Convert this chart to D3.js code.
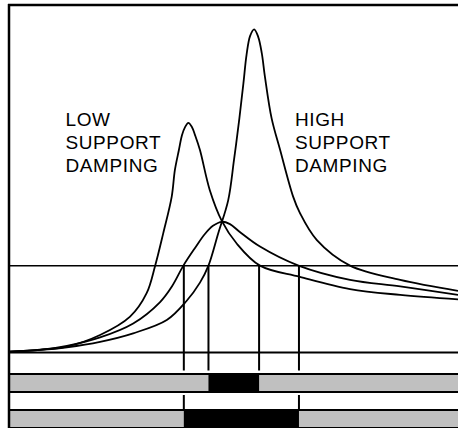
<!DOCTYPE html>
<html>
<head>
<meta charset="utf-8">
<script src="https://cdn.jsdelivr.net/npm/d3@7"></script>
<style>
  html, body { margin: 0; padding: 0; background: #fff; }
  svg { display: block; }
</style>
</head>
<body>
<div id="chart"></div>
<script>
// Response amplitude vs. speed for three support conditions.
// Frequency axis runs 0..100, amplitude axis 0..100 (arbitrary units).

const lowFreq = [0, 6.7, 12.7, 20.1, 26.8, 30.5, 32.4, 34.2, 36.1, 36.8, 37.7, 38.4, 39.1, 39.8, 40.6, 41.3, 42.4, 44.6, 47.3, 50.6, 55.8, 64.7, 75.9, 87.1, 100];
const lowAmp  = [0.1, 0.7, 1.6, 5.0, 10.4, 17.3, 25.4, 34.9, 45.7, 53.5, 59.4, 63.8, 66.2, 67.4, 66.2, 63.8, 59.4, 47.6, 38.5, 31.9, 25.4, 22.1, 18.5, 16.8, 15.5];

const highFreq = [0, 6.7, 12.7, 20.1, 27.5, 35.0, 39.4, 42.4, 44.3, 46.5, 48.7, 50.0, 51.2, 52.1, 52.8, 53.6, 54.5, 55.4, 56.2, 56.9, 58.4, 60.3, 63.2, 64.7, 68.5, 75.9, 87.1, 100];
const highAmp  = [0.1, 0.6, 1.4, 3.0, 5.5, 9.4, 15.0, 20.4, 25.4, 35.0, 44.6, 56.5, 68.7, 79.0, 87.4, 93.0, 94.9, 92.7, 87.9, 81.0, 68.7, 59.4, 45.7, 40.9, 32.9, 25.4, 21.2, 18.0];

const broadFreq = [0, 6.7, 12.7, 20.1, 27.5, 33.5, 36.2, 38.7, 41.3, 43.5, 45.3, 47.3, 49.1, 51.3, 55.8, 64.4, 75.9, 87.1, 100];
const broadAmp  = [0.1, 0.6, 1.8, 4.3, 8.4, 14.7, 19.4, 25.4, 30.6, 34.7, 37.1, 38.3, 37.6, 35.3, 31.0, 25.4, 21.2, 19.3, 16.8];

// Allowable amplitude level
const limitAmp = 25.4;

// Speed ranges where the limit is exceeded
const lowBand = [44.3, 55.6];   // upper bar
const highBand = [38.8, 64.5];  // lower bar

const labelLeft = ["LOW", "SUPPORT", "DAMPING"];
const labelRight = ["HIGH", "SUPPORT", "DAMPING"];

const W = 458, H = 428;
const svg = d3.select("#chart").append("svg")
  .attr("width", W).attr("height", H);

svg.append("rect").attr("width", W).attr("height", H).attr("fill", "#fff");

const x = d3.scaleLinear().domain([0, 100]).range([10, 458]);
const y = d3.scaleLinear().domain([0, 100]).range([352, 12]);

const line = d3.line()
  .x(d => x(d[0]))
  .y(d => y(d[1]))
  .curve(d3.curveCatmullRom.alpha(0.5));

// Bars below the plot
const rows = [
  { top: 374, bottom: 392, band: lowBand },
  { top: 410, bottom: 428, band: highBand }
];
rows.forEach(r => {
  svg.append("rect")
    .attr("x", x(0)).attr("y", r.top)
    .attr("width", x(100) - x(0)).attr("height", r.bottom - r.top)
    .attr("fill", "#c0c0c0");
  svg.append("rect")
    .attr("x", x(r.band[0])).attr("y", r.top)
    .attr("width", x(r.band[1]) - x(r.band[0])).attr("height", r.bottom - r.top)
    .attr("fill", "#000");
  [r.top, r.bottom].forEach(yy => {
    svg.append("line")
      .attr("x1", x(0)).attr("x2", W)
      .attr("y1", yy).attr("y2", yy)
      .attr("stroke", "#000").attr("stroke-width", 2);
  });
});

// Baseline and limit line
svg.append("line")
  .attr("x1", x(0)).attr("x2", W)
  .attr("y1", y(0) + 0.5).attr("y2", y(0) + 0.5)
  .attr("stroke", "#000").attr("stroke-width", 2.2);
svg.append("line")
  .attr("x1", x(0)).attr("x2", W)
  .attr("y1", y(limitAmp)).attr("y2", y(limitAmp))
  .attr("stroke", "#000").attr("stroke-width", 1.5);

// Drop lines from the limit crossings
const drops = [lowBand[0], lowBand[1], highBand[0], highBand[1]];
drops.forEach(f => {
  svg.append("line")
    .attr("x1", x(f)).attr("x2", x(f))
    .attr("y1", y(limitAmp)).attr("y2", 370.5)
    .attr("stroke", "#000").attr("stroke-width", 2);
});
highBand.forEach(f => {
  svg.append("line")
    .attr("x1", x(f)).attr("x2", x(f))
    .attr("y1", 395).attr("y2", 410)
    .attr("stroke", "#000").attr("stroke-width", 2);
});

// Response curves
[[lowFreq, lowAmp], [highFreq, highAmp], [broadFreq, broadAmp]].forEach(([fs, as]) => {
  svg.append("path")
    .datum(fs.map((f, i) => [f, as[i]]))
    .attr("d", line)
    .attr("fill", "none")
    .attr("stroke", "#000")
    .attr("stroke-width", 1.8)
    .attr("stroke-linejoin", "round");
});

// Labels
function label(lines, xPos) {
  const t = svg.append("text")
    .attr("font-family", "'Liberation Sans', Arial, sans-serif")
    .attr("font-size", 19)
    .attr("letter-spacing", 0.6)
    .attr("fill", "#000");
  lines.forEach((s, i) => {
    t.append("tspan").attr("x", xPos).attr("y", 126 + i * 23.2).text(s);
  });
}
label(labelLeft, 65.5);
label(labelRight, 295);

// Frame
svg.append("line").attr("x1", 9).attr("x2", 9).attr("y1", 4).attr("y2", H)
  .attr("stroke", "#000").attr("stroke-width", 2.5);
svg.append("line").attr("x1", 8).attr("x2", W).attr("y1", 5).attr("y2", 5)
  .attr("stroke", "#000").attr("stroke-width", 2.5);
</script>
</body>
</html>
